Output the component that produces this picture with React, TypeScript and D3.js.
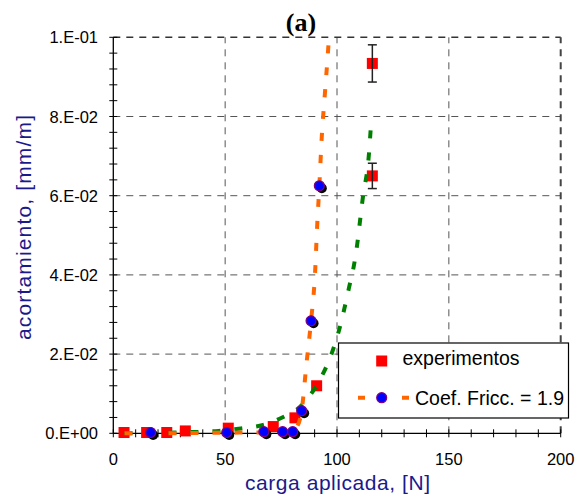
import React from "react";
import * as d3 from "d3";

// Experimental points (red squares)
const expX = [4.8, 14.9, 23.9, 32.2, 51.4, 71.5, 81.2, 90.9, 115.8, 115.8];
const expY = [0.0002, 0.0002, 0.0002, 0.0006, 0.0013, 0.0017, 0.0039, 0.012, 0.0934, 0.065];
const expErr = [0, 0, 0, 0, 0, 0, 0, 0, 0.0047, 0.0032];

// Model points, Coef. Fricc. = 1.9 (blue circles)
const modelX = [16.7, 50.7, 67.3, 75.7, 80.2, 84.2, 88.4, 92.1];
const modelY = [0.0002, 0.0002, 0.0004, 0.0004, 0.0004, 0.0057, 0.0284, 0.0625];

// Model curve (orange dashed)
const orangeX = [5, 20, 40, 60, 75, 80.2, 82, 84.2, 86.4, 88.4, 90.2, 91.1, 92.1, 93.2, 94.6, 96.1, 96.4];
const orangeY = [0, 0, 0.0001, 0.0002, 0.0003, 0.0005, 0.0015, 0.0057, 0.0178, 0.0284, 0.0406, 0.052, 0.0625, 0.0749, 0.0859, 0.0974, 0.1];

// Second curve (green dashed)
const greenX = [5, 20, 35, 47, 57, 67, 77, 82, 86.6, 92.8, 97.4, 100.6, 103.1, 105.3, 107.6, 109.1, 110.3, 111.5, 114.3, 115.2];
const greenY = [0, 0.0001, 0.0003, 0.0006, 0.0012, 0.0021, 0.0044, 0.006, 0.0086, 0.014, 0.0198, 0.0254, 0.031, 0.0366, 0.0425, 0.048, 0.0537, 0.0593, 0.0707, 0.078];

const xTicks = [0, 50, 100, 150, 200];
const xTickLabels = ["0", "50", "100", "150", "200"];
const yTicks = [0, 0.02, 0.04, 0.06, 0.08, 0.1];
const yTickLabels = ["0.E+00", "2.E-02", "4.E-02", "6.E-02", "8.E-02", "1.E-01"];

const W = 578;
const H = 497;
const navy = "#1a1a8c";
const sans = "Arial, 'Liberation Sans', sans-serif";

export default function App() {
  const x = d3.scaleLinear().domain([0, 200]).range([113.3, 560.7]);
  const y = d3.scaleLinear().domain([0, 0.1]).range([433.3, 37.3]);

  const xMinor = d3.range(0, 201, 10);
  const yMinor = d3.range(0, 0.1001, 0.004);

  const line = d3
    .line<[number, number]>()
    .x((d) => x(d[0]))
    .y((d) => y(d[1]))
    .curve(d3.curveMonotoneX);

  const orangePath = line(orangeX.map((v, i) => [v, orangeY[i]]))!;
  const greenPath = line(greenX.map((v, i) => [v, greenY[i]]))!;

  const sq = 11;
  const r = 5;

  return (
    <svg
      width={W}
      height={H}
      style={{ position: "fixed", left: 0, top: 0, background: "#fff" }}
      fontFamily={sans}
    >
      <rect x={0} y={0} width={W} height={H} fill="#fff" />

      {/* grid */}
      {xTicks.slice(1, -1).map((t) => (
        <line key={"gx" + t} x1={x(t)} x2={x(t)} y1={y(0)} y2={y(0.1)} stroke="#555" strokeWidth={1} strokeDasharray="7,6" />
      ))}
      {yTicks.slice(1, -1).map((t) => (
        <line key={"gy" + t} x1={x(0)} x2={x(200)} y1={y(t)} y2={y(t)} stroke="#555" strokeWidth={1} strokeDasharray="7,6" />
      ))}
      <line x1={x(0)} x2={x(200)} y1={y(0.1)} y2={y(0.1)} stroke="#333" strokeWidth={1.5} strokeDasharray="7,6" />
      <line x1={x(200)} x2={x(200)} y1={y(0)} y2={y(0.1)} stroke="#444" strokeWidth={2} strokeDasharray="7,6" />

      {/* axes */}
      <line x1={x(0)} x2={x(0)} y1={y(0)} y2={y(0.1)} stroke="#000" strokeWidth={1.3} />
      <line x1={x(0)} x2={x(200)} y1={y(0)} y2={y(0)} stroke="#000" strokeWidth={1.3} />
      {yMinor.map((t, i) => (
        <line key={"ty" + i} x1={x(0) - 4} x2={x(0) + 4} y1={y(t)} y2={y(t)} stroke="#000" strokeWidth={1} />
      ))}
      {xMinor.map((t) => (
        <line key={"tx" + t} x1={x(t)} x2={x(t)} y1={y(0) - 4} y2={y(0) + 4} stroke="#000" strokeWidth={1} />
      ))}

      {/* tick labels */}
      {yTicks.map((t, i) => (
        <text key={"ly" + t} x={98} y={y(t) + 6} textAnchor="end" fontSize={16.5} fill="#000">
          {yTickLabels[i]}
        </text>
      ))}
      {xTicks.map((t, i) => (
        <text key={"lx" + t} x={x(t)} y={465} textAnchor="middle" fontSize={16.5} fill="#000">
          {xTickLabels[i]}
        </text>
      ))}

      {/* axis titles */}
      <text x={337.5} y={490} textAnchor="middle" fontSize={21} fill={navy} textLength={185} lengthAdjust="spacing">
        carga aplicada, [N]
      </text>
      <text
        transform="translate(31,227.5) rotate(-90)"
        textAnchor="middle"
        fontSize={21}
        fill={navy}
        textLength={225}
        lengthAdjust="spacing"
      >
        acortamiento, [mm/m]
      </text>

      {/* title */}
      <text x={301} y={31} textAnchor="middle" fontSize={26} fontWeight="bold" fontFamily="'Times New Roman', 'Liberation Serif', serif" fill="#000">
        (a)
      </text>

      {/* experiments */}
      {expX.map((v, i) => (
        <rect key={"e" + i} x={x(v) - sq / 2} y={y(expY[i]) - sq / 2} width={sq} height={sq} fill="#ff0000" />
      ))}
      {expX.map((v, i) =>
        expErr[i] > 0 ? (
          <g key={"eb" + i} stroke="#222" strokeWidth={1.5}>
            <line x1={x(v)} x2={x(v)} y1={y(expY[i] + expErr[i])} y2={y(expY[i] - expErr[i])} />
            <line x1={x(v) - 4.5} x2={x(v) + 4.5} y1={y(expY[i] + expErr[i])} y2={y(expY[i] + expErr[i])} />
            <line x1={x(v) - 4.5} x2={x(v) + 4.5} y1={y(expY[i] - expErr[i])} y2={y(expY[i] - expErr[i])} />
          </g>
        ) : null
      )}

      {/* curves */}
      <path d={greenPath} fill="none" stroke="#008000" strokeWidth={4} strokeDasharray="8,14" />
      <path d={orangePath} fill="none" stroke="#ff6600" strokeWidth={4} strokeDasharray="8,14" />

      {/* model points */}
      {modelX.map((v, i) => (
        <circle key={"ms" + i} cx={x(v) + 2.5} cy={y(modelY[i]) + 2.5} r={r} fill="#000" />
      ))}
      {modelX.map((v, i) => (
        <circle key={"m" + i} cx={x(v)} cy={y(modelY[i])} r={r} fill="#0000ff" stroke="#800080" strokeWidth={1.2} />
      ))}

      {/* legend */}
      <rect x={338.5} y={343} width={230} height={75} fill="#fff" stroke="#000" strokeWidth={1.2} />
      <rect x={381.7 - sq / 2} y={361 - sq / 2} width={sq} height={sq} fill="#ff0000" />
      <text x={402.5} y={365} fontSize={19.5} fill="#000">experimentos</text>
      <line x1={358} x2={410} y1={397.7} y2={397.7} stroke="#ff6600" strokeWidth={4} strokeDasharray="7,15" />
      <circle cx={381.7} cy={397.7} r={r} fill="#0000ff" stroke="#800080" strokeWidth={1.2} />
      <text x={415} y={405} fontSize={19.5} fill="#000">Coef. Fricc. = 1.9</text>
    </svg>
  );
}
